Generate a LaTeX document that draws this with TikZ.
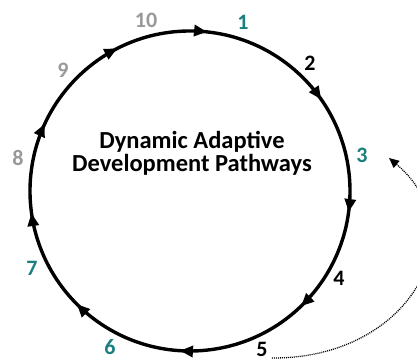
\documentclass[tikz,border=0pt]{standalone}
\usepackage{fontspec}
\setmainfont{Carlito}
\usetikzlibrary{arrows.meta,decorations.markings}
\definecolor{tealnum}{HTML}{1B7F7F}
\definecolor{graynum}{HTML}{999999}
\tikzset{
  num/.style={font=\fontsize{22}{22}\selectfont\bfseries, inner sep=0pt},
  cyctip/.tip={Triangle[length=13pt,width=11pt]},
  cycle/.style={line width=3.4pt, postaction={decorate}, decoration={markings,
    mark=at position 0.017 with {\arrow{cyctip}},
    mark=at position 0.153 with {\arrow{cyctip}},
    mark=at position 0.271 with {\arrow{cyctip}},
    mark=at position 0.378 with {\arrow{cyctip}},
    mark=at position 0.510 with {\arrow{cyctip}},
    mark=at position 0.625 with {\arrow{cyctip}},
    mark=at position 0.728 with {\arrow{cyctip}},
    mark=at position 0.819 with {\arrow{cyctip}},
    mark=at position 0.925 with {\arrow{cyctip}}}},
  feedback/.style={line width=1.3pt, dash pattern=on 1pt off 1pt, -{Triangle[length=10pt,width=9pt]}}
}
\begin{document}
\begin{tikzpicture}[x=1pt,y=1pt]
\useasboundingbox (0,0) rectangle (417,361);
\coordinate (c) at (190,170);
\draw[cycle] (190,330) arc[start angle=90, end angle=-270, radius=160];
\node[align=center, font=\fontsize{24.5}{23}\selectfont\bfseries] (title) at (192,208) {Dynamic Adaptive\\Development Pathways};
\node[num, text=tealnum] (n1) at (243,339) {1};
\node[num] (n2) at (310,298) {2};
\node[num, text=tealnum] (n3) at (362,206) {3};
\node[num] (n4) at (339,83) {4};
\node[num] (n5) at (262,12) {5};
\node[num, text=tealnum] (n6) at (110,14) {6};
\node[num, text=tealnum] (n7) at (32,93) {7};
\node[num, text=graynum] (n8) at (18,203) {8};
\node[num, text=graynum] (n9) at (63,291) {9};
\node[num, text=graynum] (n10) at (146,341) {10};
\coordinate (fbend) at (389,203);
\draw[feedback] ([xshift=4pt,yshift=-9pt]n5.east) .. controls (410,2) and (478,128) .. (fbend);
\end{tikzpicture}
\end{document}
